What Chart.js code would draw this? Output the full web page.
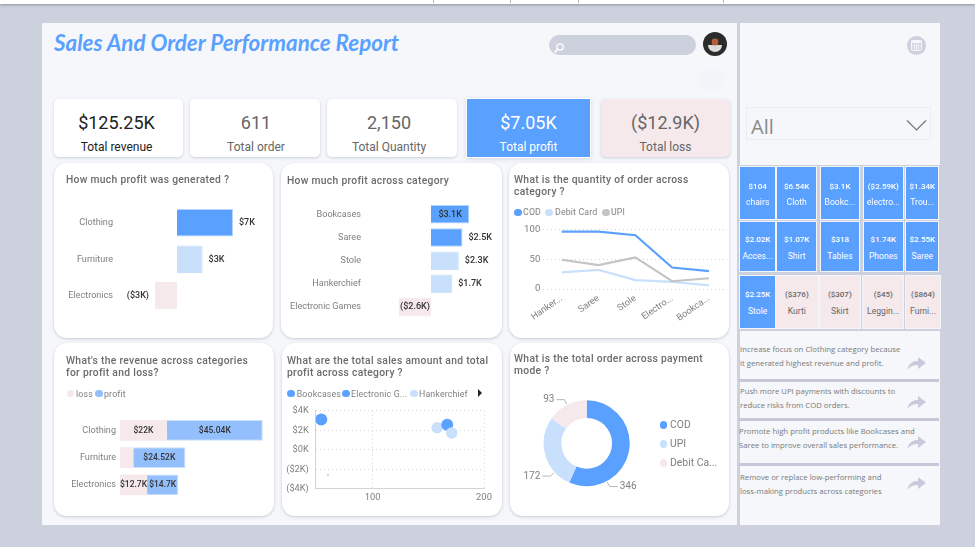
<!DOCTYPE html>
<html>
<head>
<meta charset="utf-8">
<title>Sales And Order Performance Report</title>
<script src="https://cdn.jsdelivr.net/npm/chart.js@4/dist/chart.umd.min.js"></script>
<style>
  html, body { margin: 0; padding: 0; width: 975px; height: 547px; overflow: hidden; background: #cdd1dd; font-family: Roboto, sans-serif; }
  .abs { position: absolute; }
  .panel { position: absolute; background: #f5f7fb; }
  .kpi { position: absolute; top: 99px; height: 58px; background: #fff; border-radius: 5px; box-shadow: 0 1px 3px rgba(60,70,100,.22); text-align: center; color: #666; }
  .kpi .val { position: absolute; left: 0; right: 0; top: 12px; font-size: 18px; line-height: 24px; }
  .kpi .lab { position: absolute; left: 0; right: 0; top: 40px; font-size: 12px; line-height: 16px; }
  .card { position: absolute; background: #fff; border-radius: 13px; box-shadow: 0 1px 3px rgba(60,70,100,.25); }
  .card canvas { position: absolute; left: 0; top: 0; }
  .ttl { position: absolute; color: #6b6b6b; font-size: 10.3px; font-weight: 500; line-height: 12.3px; letter-spacing: .3px; white-space: nowrap; }
  .lg { position: absolute; color: #808080; font-size: 8.8px; line-height: 12px; white-space: nowrap; letter-spacing: .15px; }
  .dot { position: absolute; border-radius: 50%; }
  .tile { position: absolute; text-align: center; color: #fff; font-size: 8px; line-height: 11px; white-space: nowrap; overflow: hidden; }
  .tile .v { position: absolute; left: 0; right: 0; font-weight: 500; }
  .tile .n { position: absolute; left: 0; right: 0; font-size: 8.6px; }
  .note { position: absolute; color: #7a7a7a; font-family: "Open Sans", sans-serif; font-size: 7.75px; line-height: 13.8px; white-space: nowrap; }
</style>
</head>
<body>
<div id="page"></div>
<script>
const profitCats = ["Clothing", "Furniture", "Electronics"];
const profitVals = [7, 3.2, -2.75];

const catCats = ["Bookcases", "Saree", "Stole", "Hankerchief", "Electronic Games"];
const catVals = [3.1, 2.55, 2.25, 1.72, -2.59];
const catInside = ["Bookcases", "Electronic Games"];

const qtyCats = ["Hanker...", "Saree", "Stole", "Electro...", "Bookca..."];
const qtyCod = [96, 96, 90, 36, 30];
const qtyDebit = [28, 32, 15, 12, 6];
const qtyUpi = [49, 40, 53, 13, 18];

const revCats = ["Clothing", "Furniture", "Electronics"];
const revLoss = [22, 6.2, 12.7];
const revProfit = [45.04, 24.52, 14.7];

const bubbleNames = ["Bookcases", "Electronic Games", "Hankerchief", "Saree", "Stole"];
const bubbleSales = [54, 60, 171, 167, 158];
const bubbleProfit = [3.1, -2.59, 1.72, 2.55, 2.25];
const bubbleSizes = [6, 0.7, 5.8, 6, 5.8];
const bubbleLegend = ["Bookcases", "Electronic G...", "Hankerchief"];
const bubbleXTicks = [100, 200];

const payCats = ["COD", "UPI", "Debit Ca..."];
const payVals = [346, 172, 93];

const kpiVals = ["$125.25K", "611", "2,150", "$7.05K", "($12.9K)"];
const kpiNames = ["Total revenue", "Total order", "Total Quantity", "Total profit", "Total loss"];

const tileVals = ["$104", "$6.54K", "$3.1K", "($2.59K)", "$1.34K",
                  "$2.02K", "$1.07K", "$318", "$1.74K", "$2.55K",
                  "$2.25K", "($376)", "($307)", "($45)", "($864)"];
const tileNames = ["chairs", "Cloth", "Bookc...", "electro...", "Trou...",
                   "Acces...", "Shirt", "Tables", "Phones", "Saree",
                   "Stole", "Kurti", "Skirt", "Leggin...", "Furni..."];

const notes = [
  ["Increase focus on Clothing category because", "it generated highest revenue and profit."],
  ["Push more UPI payments with discounts to", "reduce risks from COD orders."],
  ["Promote high profit products like Bookcases and", "Saree to improve overall sales performance."],
  ["Remove or replace low-performing and", "loss-making products across categories"]
];

const BLUE = "#5aa0ff";
const BLUE_EDGE = "#b5d4fd";
const SKY = "#c9e0fc";
const PINK = "#f5e9ec";
const MID = "#94bffd";
const MID_EDGE = "#c8dffe";
const GREY = "#c4c4c4";
const TICK = "#808080";

const page = document.getElementById("page");

function el(cls, css, html, parent) {
  const d = document.createElement("div");
  d.className = cls;
  d.style.cssText = css;
  if (html !== undefined) d.innerHTML = html;
  (parent || page).appendChild(d);
  return d;
}

function money(v, digits) {
  const s = digits === undefined ? String(Math.abs(v)) : Math.abs(v).toFixed(digits);
  return v < 0 ? `($${s}K)` : `$${s}K`;
}

// backgrounds
el("abs", "left:0;top:0;width:975px;height:4px;background:#fff;box-shadow:0 1px 3px rgba(0,0,0,.3)");
[433, 510, 578, 723].forEach(x => el("abs", `left:${x}px;top:0;width:1px;height:3px;background:#bbb`));
el("panel", "left:42px;top:23px;width:695px;height:502px");
el("panel", "left:740px;top:23px;width:200px;height:502px");

// header
el("abs", `left:54px;top:28px;color:${BLUE};font-family:Lato,sans-serif;font-weight:700;font-style:italic;font-size:22.4px;line-height:30px;white-space:nowrap`,
  "Sales And Order Performance Report");
el("abs", "left:549px;top:35px;width:147px;height:20px;border-radius:10px;background:#cdd1dd");
el("abs", "left:553px;top:39px;width:12px;height:12px",
  '<svg width="12" height="12"><circle cx="7" cy="5" r="3.2" fill="none" stroke="#fff" stroke-width="1.3"/><line x1="4.6" y1="7.4" x2="1.5" y2="10.5" stroke="#fff" stroke-width="1.5"/></svg>');
el("abs", "left:703px;top:32px;width:24px;height:24px",
  '<svg width="24" height="24"><circle cx="12" cy="12" r="12" fill="#2b2b2b"/><path d="M5 13h14a7 7 0 0 1-14 0z" fill="#ddd"/><circle cx="12" cy="10" r="3.4" fill="#b5603a"/></svg>');
el("abs", "left:700px;top:68px;width:24px;height:24px;border-radius:50%;background:#f2f4f9");

// kpi cards
const kpiX = [[54, 129], [190, 130], [327, 130], [467, 123], [601, 129]];
const kpiShift = [-2, 1, -3, 0, 0];
const kpiStyles = ["color:#222", "", "", `background:${BLUE};color:#fff;border-radius:0;box-shadow:0 0 0 1px #fff,0 1px 4px 1px rgba(60,70,100,.18)`, `background:${PINK}`];
kpiVals.forEach((v, i) => {
  const k = el("kpi", `left:${kpiX[i][0]}px;width:${kpiX[i][1]}px;${kpiStyles[i]}`);
  el("val", `transform:translateX(${kpiShift[i]}px)`, v, k);
  el("lab", `transform:translateX(${kpiShift[i]}px)`, kpiNames[i], k);
});

function card(left, top, width, height) {
  const c = el("card", `left:${left}px;top:${top}px;width:${width}px;height:${height}px`);
  const cv = document.createElement("canvas");
  cv.width = width;
  cv.height = height;
  c.appendChild(cv);
  return { ctx: cv.getContext("2d"), left, top, width, height };
}

function title(x, y, lines) {
  lines.forEach((t, i) => el("ttl", `left:${x}px;top:${y + i * 12.3}px`, t));
}

function legend(names, colors, dotXs, textXs, y) {
  names.forEach((n, i) => {
    el("dot", `left:${dotXs[i] - 3.7}px;top:${y - 3.7}px;width:7.4px;height:7.4px;background:${colors[i]}`);
    el("lg", `left:${textXs[i]}px;top:${y - 6}px`, n);
  });
}

// draws the value next to or inside each bar
const barLabels = {
  id: "barLabels",
  afterDatasetsDraw(chart, args, opts) {
    const ctx = chart.ctx;
    ctx.save();
    ctx.font = `500 ${opts.size || 9}px Roboto`;
    ctx.fillStyle = "#333";
    ctx.textBaseline = "middle";
    chart.data.datasets.forEach((ds, i) => {
      chart.getDatasetMeta(i).data.forEach((bar, j) => {
        const v = ds.data[j];
        const txt = opts.format(v);
        const w = Math.abs(bar.x - bar.base);
        if (opts.center || opts.inside.includes(chart.data.labels[j])) {
          if (ctx.measureText(txt).width > w + 4) return;
          ctx.textAlign = "center";
          ctx.fillText(txt, (bar.x + bar.base) / 2, bar.y);
        } else if (v < 0) {
          ctx.textAlign = "right";
          ctx.fillText(txt, bar.x - 6, bar.y);
        } else {
          ctx.textAlign = "left";
          ctx.fillText(txt, bar.x + 6, bar.y);
        }
      });
    });
    ctx.restore();
  }
};

function hBarOptions(c, plot, xMin, xMax, labelOpts, stacked) {
  return {
    indexAxis: "y",
    responsive: false,
    animation: false,
    layout: { padding: { left: 0, right: c.left + c.width - plot.right, top: plot.top - c.top, bottom: c.top + c.height - plot.bottom } },
    plugins: { legend: { display: false }, tooltip: { enabled: false }, barLabels: labelOpts },
    scales: {
      x: { display: false, min: xMin, max: xMax, stacked: !!stacked },
      y: {
        stacked: !!stacked,
        grid: { display: false, drawTicks: false },
        border: { display: false },
        ticks: { color: TICK, font: { size: 9.1, family: "Roboto" }, padding: 4 },
        afterFit(s) { s.width = plot.left - c.left; }
      }
    }
  };
}

// profit by category type
const cA = card(54, 163, 219, 175);
title(66, 174, ["How much profit was generated ?"]);
new Chart(cA.ctx, {
  type: "bar",
  data: {
    labels: profitCats,
    datasets: [{
      data: profitVals,
      backgroundColor: [BLUE, SKY, PINK],
      borderColor: [BLUE_EDGE, SKY, PINK],
      borderWidth: 1,
      barPercentage: 0.75,
      categoryPercentage: 1
    }]
  },
  options: hBarOptions(cA, { left: 117, right: 265, top: 204.5, bottom: 314 }, -7.5, 11,
    { format: v => money(v, 0), inside: [] }),
  plugins: [barLabels]
});

// profit by sub category
const cB = card(281, 163, 221, 175);
title(287, 175, ["How much profit across category"]);
new Chart(cB.ctx, {
  type: "bar",
  data: {
    labels: catCats,
    datasets: [{
      data: catVals,
      backgroundColor: [BLUE, BLUE, SKY, SKY, PINK],
      borderColor: [BLUE_EDGE, BLUE_EDGE, SKY, SKY, PINK],
      borderWidth: 1,
      barPercentage: 0.8,
      categoryPercentage: 1
    }]
  },
  options: hBarOptions(cB, { left: 365, right: 495, top: 202.7, bottom: 318.7 }, -5.34, 5.18,
    { format: v => money(v, 1), inside: catInside }),
  plugins: [barLabels]
});

// quantity lines
const cC = card(509, 163, 220, 175);
title(514, 174, ["What is the quantity of order across", "category ?"]);
legend(["COD", "Debit Card", "UPI"], [BLUE, SKY, GREY], [518, 549, 606], [523, 555, 611], 212.3);
new Chart(cC.ctx, {
  type: "line",
  data: {
    labels: qtyCats,
    datasets: [
      { label: "UPI", data: qtyUpi, borderColor: GREY, order: 2 },
      { label: "Debit Card", data: qtyDebit, borderColor: SKY, order: 3 },
      { label: "COD", data: qtyCod, borderColor: BLUE, order: 1 }
    ]
  },
  options: {
    responsive: false,
    animation: false,
    elements: { point: { radius: 0 }, line: { borderWidth: 2.2, tension: 0 } },
    layout: { padding: { left: 0, right: 729 - 727.4, top: 229.3 - 163, bottom: 0 } },
    plugins: { legend: { display: false }, tooltip: { enabled: false } },
    scales: {
      x: {
        offset: true,
        grid: { display: false, drawTicks: false },
        border: { display: false },
        ticks: { color: TICK, font: { size: 9.2, family: "Roboto" }, minRotation: 35, maxRotation: 35, autoSkip: false, padding: 4 },
        afterFit(s) { s.height = 338 - 289; }
      },
      y: {
        min: 0, max: 100,
        grid: { color: "#d4d4d4", drawTicks: false },
        border: { display: false, dash: [1, 3] },
        ticks: { color: TICK, stepSize: 50, font: { size: 9.6, family: "Roboto" }, padding: 3 },
        afterFit(s) { s.width = 543.3 - 509; }
      }
    }
  }
});

// revenue stacked
const cD = card(54, 343, 220, 173);
title(66, 355, ["What's the revenue across categories", "for profit and loss?"]);
legend(["loss", "profit"], [PINK, MID], [70.7, 99], [76, 104], 393.7);
new Chart(cD.ctx, {
  type: "bar",
  data: {
    labels: revCats,
    datasets: [
      { label: "loss", data: revLoss, backgroundColor: PINK, barPercentage: 0.76, categoryPercentage: 1 },
      { label: "profit", data: revProfit, backgroundColor: MID, borderColor: MID_EDGE, borderWidth: 1, barPercentage: 0.76, categoryPercentage: 1 }
    ]
  },
  options: hBarOptions(cD, { left: 120, right: 268, top: 416.8, bottom: 498.4 }, 0, 69.5,
    { format: v => money(v), inside: [], center: true, size: 8.5 }, true),
  plugins: [barLabels]
});

// sales vs profit bubbles
const cE = card(282, 343, 220, 173);
title(287, 355, ["What are the total sales amount and total", "profit across category ?"]);
legend(bubbleLegend, [BLUE, BLUE, SKY], [291, 346, 414], [296.7, 351, 419], 393.7);
el("abs", "left:478px;top:389px;width:0;height:0;border-left:4px solid #222;border-top:4px solid transparent;border-bottom:4px solid transparent");
const bubbleColors = [BLUE, BLUE, SKY, BLUE, SKY];
new Chart(cE.ctx, {
  type: "bubble",
  data: {
    datasets: bubbleNames.map((n, i) => ({
      label: n,
      data: [{ x: bubbleSales[i], y: bubbleProfit[i], r: bubbleSizes[i] }],
      backgroundColor: bubbleColors[i],
      borderWidth: 0
    }))
  },
  options: {
    responsive: false,
    animation: false,
    layout: { padding: { left: 0, right: 502 - 484, top: 410.7 - 343, bottom: 0 } },
    plugins: { legend: { display: false }, tooltip: { enabled: false } },
    scales: {
      x: {
        min: 49, max: 200,
        afterBuildTicks(s) { s.ticks = bubbleXTicks.map(v => ({ value: v })); },
        grid: { color: "#d4d4d4", drawTicks: false },
        border: { dash: [1, 3], color: "#d4d4d4" },
        ticks: { color: TICK, font: { size: 9.4, family: "Roboto" }, padding: 3, maxRotation: 0 },
        afterFit(s) { s.height = 516 - 488.7; }
      },
      y: {
        min: -4, max: 4,
        grid: { color: "#d4d4d4", drawTicks: false },
        border: { dash: [1, 3], color: "#d4d4d4" },
        ticks: { color: TICK, stepSize: 2, font: { size: 9.2, family: "Roboto" }, padding: 7, callback: v => money(v) },
        afterFit(s) { s.width = 315.7 - 282; }
      }
    }
  }
});

// leader lines on the donut, anchor angles in degrees clockwise from the top
const donutLeaders = {
  id: "donutLeaders",
  afterDatasetsDraw(chart, args, opts) {
    const ctx = chart.ctx;
    const arc = chart.getDatasetMeta(0).data[0];
    ctx.save();
    ctx.font = "10px Roboto";
    ctx.textBaseline = "middle";
    chart.data.datasets[0].data.forEach((v, i) => {
      const a = opts.angles[i] * Math.PI / 180;
      const dx = Math.sin(a), dy = -Math.cos(a);
      const r = arc.outerRadius;
      const side = dx >= 0 ? 1 : -1;
      const x1 = arc.x + dx * (r + 1), y1 = arc.y + dy * (r + 1);
      const x2 = arc.x + dx * (r + 6), y2 = arc.y + dy * (r + 6);
      const x3 = x2 + side * 8;
      ctx.strokeStyle = "#b8b8b8";
      ctx.lineWidth = 1;
      ctx.beginPath();
      ctx.moveTo(x1, y1);
      ctx.lineTo(x2, y2);
      ctx.lineTo(x3, y2);
      ctx.stroke();
      ctx.fillStyle = "#808080";
      ctx.textAlign = side > 0 ? "left" : "right";
      ctx.fillText(String(v), x3 + side * 2, y2);
    });
    ctx.restore();
  }
};

const cF = card(510, 343, 219, 173);
title(514, 353, ["What is the total order across payment", "mode ?"]);
new Chart(cF.ctx, {
  type: "doughnut",
  data: {
    labels: payCats,
    datasets: [{ data: payVals, backgroundColor: [BLUE, SKY, PINK], borderWidth: 0 }]
  },
  options: {
    responsive: false,
    animation: false,
    cutout: "59%",
    layout: { padding: { left: 33.7, right: 99.3, top: 57.3, bottom: 29.7 } },
    plugins: { legend: { display: false }, tooltip: { enabled: false }, donutLeaders: { angles: [152, 228, 333] } }
  },
  plugins: [donutLeaders]
});
payCats.forEach((n, i) => {
  const y = 425 + i * 19;
  el("dot", `left:660px;top:${y - 3.7}px;width:7.4px;height:7.4px;background:${[BLUE, SKY, PINK][i]}`);
  el("lg", `left:670px;top:${y - 6}px;font-size:10.4px;letter-spacing:0`, n);
});

// right panel
el("abs", "left:916px;top:45px;margin:-9.5px 0 0 -9.5px;width:19px;height:19px",
  '<svg width="19" height="19"><circle cx="9.5" cy="9.5" r="9.5" fill="#cdd1dd"/><rect x="4.5" y="4.5" width="10" height="10" rx="1" fill="none" stroke="#f5f7fb"/><rect x="4.5" y="4.5" width="10" height="2.5" fill="#f5f7fb"/><path d="M4.5 9.5h10M4.5 12h10M7.5 7v7.5M9.5 7v7.5M11.5 7v7.5" stroke="#f5f7fb" stroke-width=".7"/></svg>');
el("abs", "left:746px;top:107px;width:185px;height:33px;border:1px solid #ecedf2;box-sizing:border-box");
el("abs", "left:751px;top:113px;color:#8a8a8a;font-family:'Open Sans',sans-serif;font-size:20px;line-height:27px", "All");
el("abs", "left:906px;top:117px;width:21px;height:13px",
  '<svg width="21" height="13"><path d="M1 1.5L10.5 11L20 1.5" fill="none" stroke="#777" stroke-width="1.2"/></svg>');

el("abs", "left:739px;top:165px;width:201px;height:166px;background:#cdd1dd");
const tileColX = [[740, 35.3], [777.3, 38.7], [820.7, 38.6], [864, 38.7], [906.3, 32]];
const lastRowX = [[740, 35.3], [776, 41.7], [819.7, 40.3], [863.3, 40], [906, 34]];
const tileRows = [[167.3, 51.7, 14, 30.2], [222.3, 49, 12.2, 29.2], [275.7, 52, 13.8, 30.5]];
tileVals.forEach((v, i) => {
  const row = Math.floor(i / 5), col = i % 5;
  const x = row === 2 ? lastRowX[col] : tileColX[col];
  const r = tileRows[row];
  const isLoss = v.startsWith("(") && row === 2;
  const t = el("tile", `left:${x[0]}px;top:${r[0]}px;width:${x[1]}px;height:${r[1]}px;background:${isLoss ? PINK : BLUE};color:${isLoss ? "#666" : "#fff"};box-shadow:0 0 0 1px #f3f5fa`);
  el("v", `top:${r[2]}px`, v, t);
  el("n", `top:${r[3]}px`, tileNames[i], t);
});

[379, 418.3, 463.3].forEach(y => {
  el("abs", `left:738px;top:${y}px;width:201px;height:3px;background:#c5c8d8`);
});
const noteTops = [342.8, 384.8, 424.8, 471.4];
const arrowYs = [361.7, 401, 441, 482];
notes.forEach((lines, i) => {
  el("note", `left:${i === 2 ? 739 : 740}px;top:${noteTops[i]}px`, lines.join("<br>"));
  el("abs", `left:907px;top:${arrowYs[i] - 7}px;width:19px;height:13px`,
    '<svg width="19" height="13"><path d="M0 13C2 6 6 4 11 4V0L19 6L11 12V8C7 8 3 9 0 13z" fill="#c6cadb"/></svg>');
});
</script>
</body>
</html>
